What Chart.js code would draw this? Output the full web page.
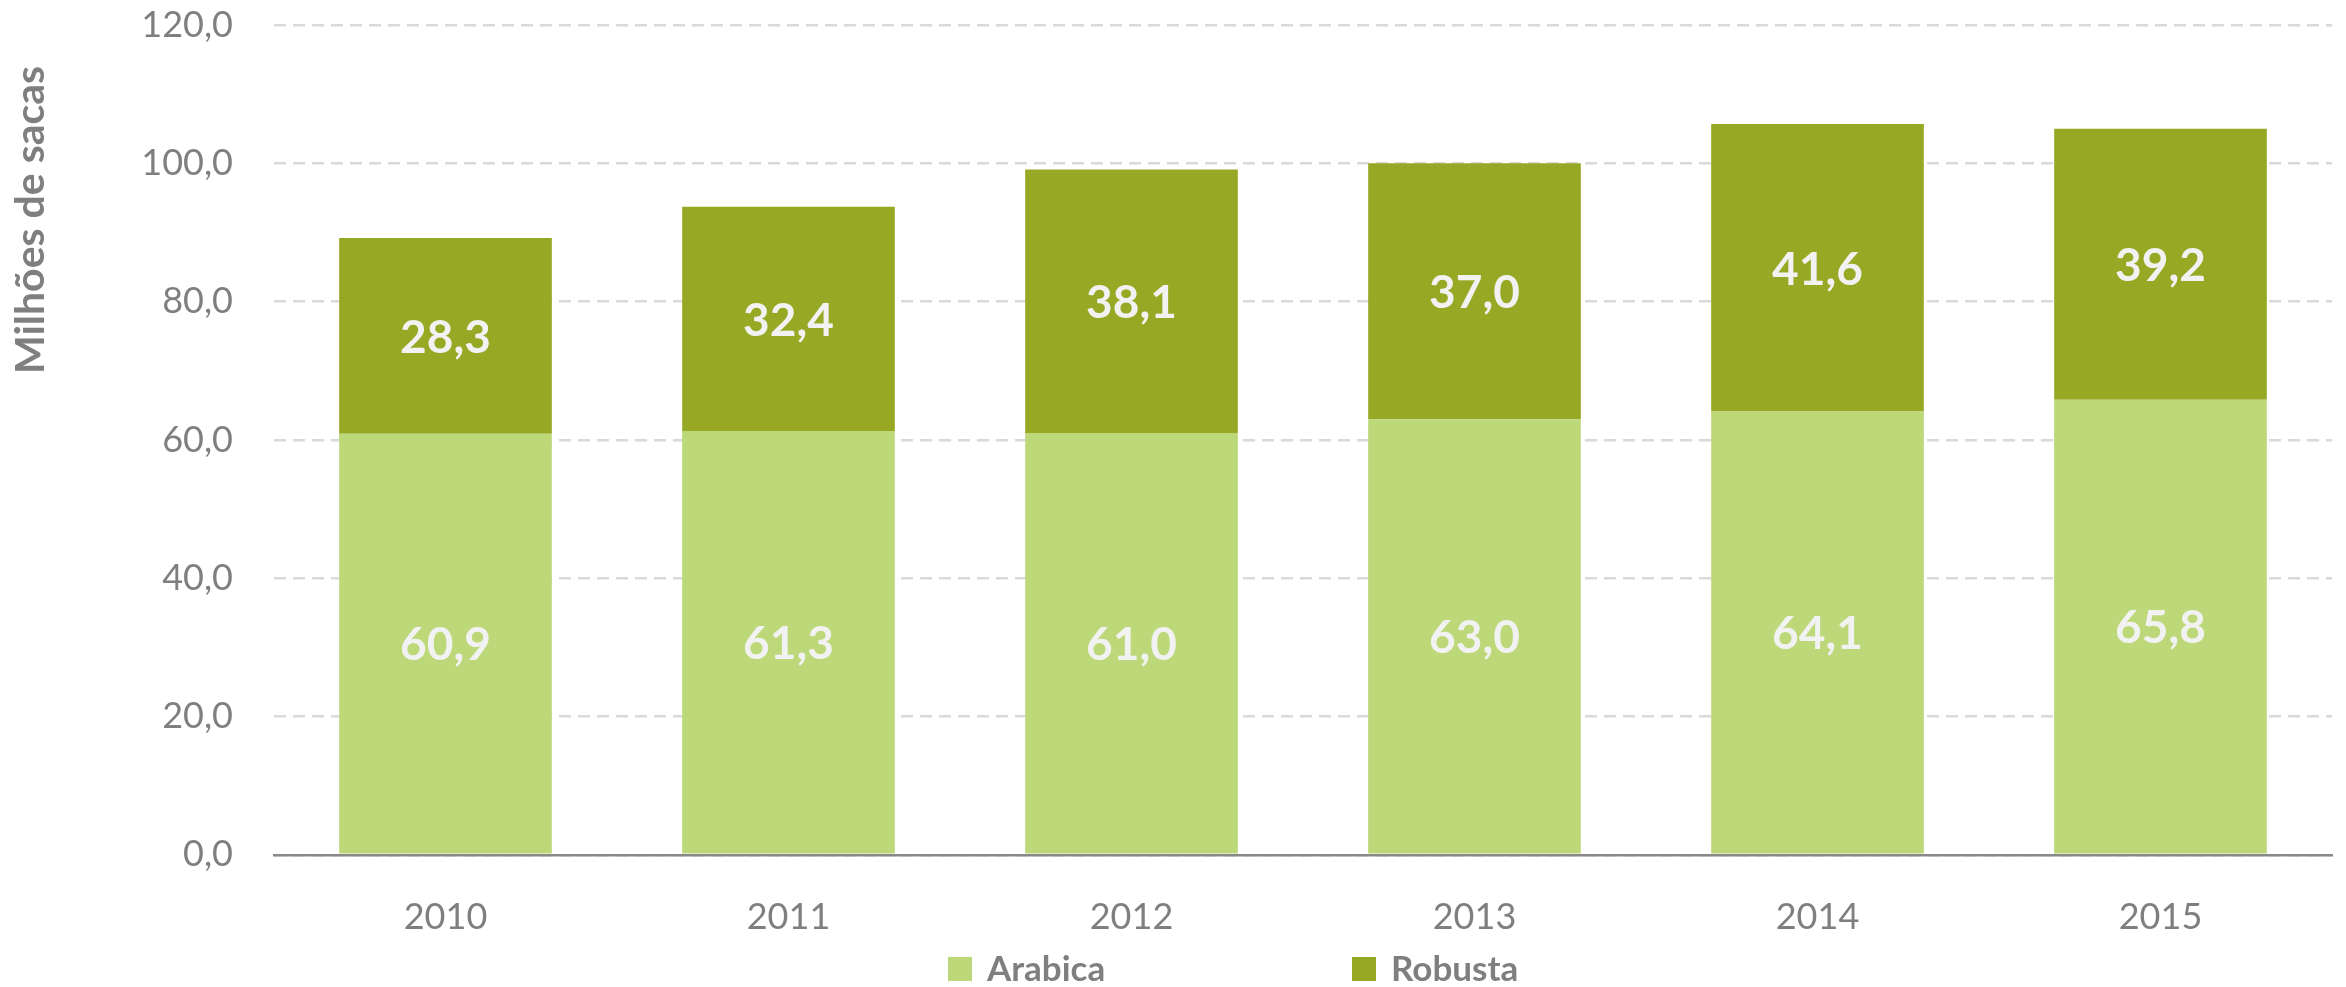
<!DOCTYPE html>
<html>
<head>
<meta charset="utf-8">
<script src="https://cdn.jsdelivr.net/npm/chart.js@4.4.1/dist/chart.umd.min.js"></script>
<style>
  html, body { margin: 0; padding: 0; background: #fff; }
  #wrap { width: 2346px; height: 987px; position: relative; }
</style>
</head>
<body>
<div id="wrap"><canvas id="chart"></canvas></div>
<script>
  // values (milhões de sacas)
  const years = ["2010", "2011", "2012", "2013", "2014", "2015"];
  const arabica = [60.9, 61.3, 61.0, 63.0, 64.1, 65.8];
  const robusta = [28.3, 32.4, 38.1, 37.0, 41.6, 39.2];
  const yMax = 120;
  const yStep = 20;

  const gray = "#7f7f7f";
  const font = "Lato, 'Open Sans', sans-serif";
  const fmt = (v) => v.toFixed(1).replace(".", ",");

  // numbers centred inside each stacked segment
  const valueLabels = {
    id: "valueLabels",
    afterDatasetsDraw(chart) {
      const ctx = chart.ctx;
      ctx.save();
      ctx.font = "bold 46px " + font;
      ctx.fillStyle = "#f2f2f2";
      ctx.textAlign = "center";
      ctx.textBaseline = "middle";
      chart.data.datasets.forEach((ds, i) => {
        chart.getDatasetMeta(i).data.forEach((bar, j) => {
          ctx.fillText(fmt(ds.data[j]), bar.x, (bar.y + bar.base) / 2 + 2);
        });
      });
      ctx.restore();
    },
  };

  // axis title sits high on the left, not centred on the axis
  const yTitle = {
    id: "yTitle",
    afterDraw(chart, args, opts) {
      const ctx = chart.ctx;
      ctx.save();
      ctx.translate(opts.x, opts.y);
      ctx.rotate(-Math.PI / 2);
      ctx.font = "bold 41px " + font;
      ctx.fillStyle = gray;
      ctx.textAlign = "center";
      ctx.textBaseline = "middle";
      ctx.fillText(opts.text, 0, 0);
      ctx.restore();
    },
  };

  // widely spaced legend under the axis
  const bottomLegend = {
    id: "bottomLegend",
    afterDraw(chart, args, opts) {
      const ctx = chart.ctx;
      ctx.save();
      ctx.font = "bold 35px " + font;
      ctx.textBaseline = "middle";
      chart.data.datasets.forEach((ds, i) => {
        const x = opts.x[i];
        ctx.fillStyle = ds.backgroundColor;
        ctx.fillRect(x, opts.y - 12, 24, 24);
        ctx.fillStyle = gray;
        ctx.fillText(ds.label, x + 39, opts.y + 1);
      });
      ctx.restore();
    },
  };

  new Chart(document.getElementById("chart"), {
    type: "bar",
    data: {
      labels: years,
      datasets: [
        { label: "Arabica", data: arabica, backgroundColor: "#bdd879" },
        { label: "Robusta", data: robusta, backgroundColor: "#97a924" },
      ],
    },
    options: {
      responsive: true,
      maintainAspectRatio: false,
      animation: false,
      datasets: { bar: { categoryPercentage: 1, barPercentage: 0.62 } },
      layout: { padding: { top: 25, right: 14, bottom: 15, left: 0 } },
      plugins: {
        legend: { display: false },
        tooltip: { enabled: false },
        yTitle: { text: "Milhões de sacas", x: 31, y: 220 },
        bottomLegend: { x: [948, 1352], y: 969 },
      },
      scales: {
        x: {
          stacked: true,
          grid: { display: false },
          border: { display: true, color: "#898989", width: 2.5 },
          ticks: { color: gray, padding: 33, maxRotation: 0, font: { family: font, size: 36 } },
        },
        y: {
          stacked: true,
          min: 0,
          max: yMax,
          afterFit: (s) => {
            s.width = 274;
            // tick padding would otherwise push the plot down
            s.paddingTop = 0;
            s.paddingBottom = 0;
          },
          grid: { color: "#d9d9d9", lineWidth: 2.5, drawTicks: false },
          border: { display: false, dash: [12, 7] },
          ticks: {
            stepSize: yStep,
            color: gray,
            padding: 41,
            font: { family: font, size: 36 },
            callback: (v) => fmt(v),
          },
        },
      },
    },
    plugins: [valueLabels, yTitle, bottomLegend],
  });
</script>
</body>
</html>
